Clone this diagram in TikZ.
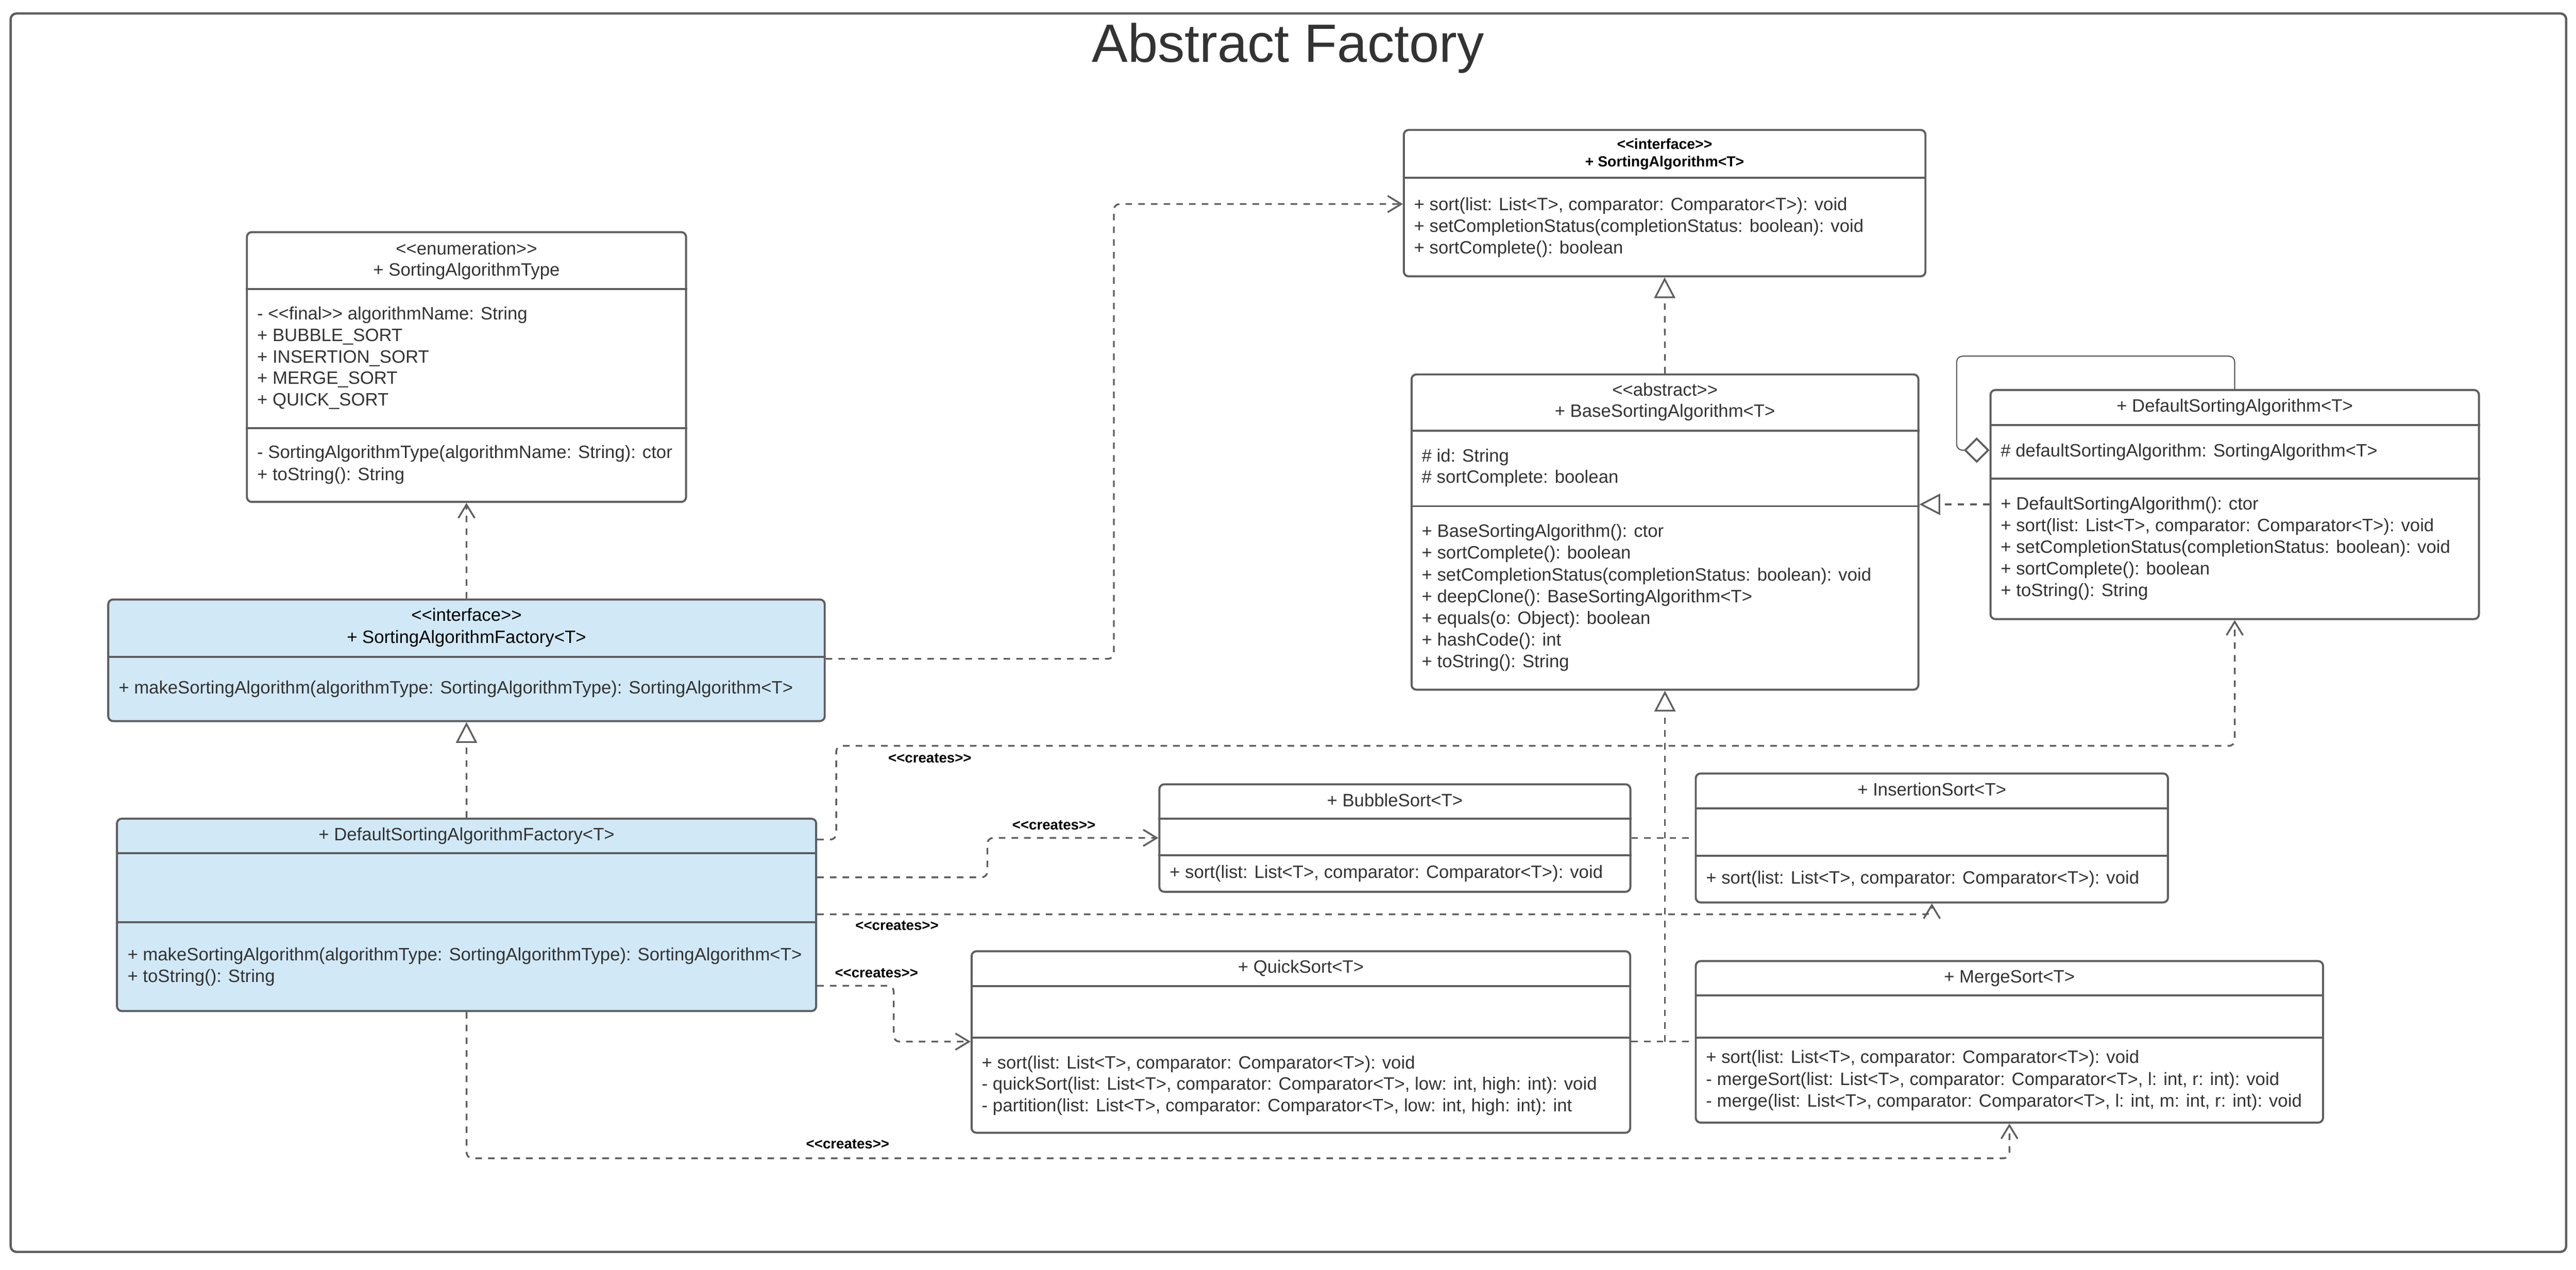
\documentclass[tikz,border=0pt]{standalone}
\usepackage{fontspec}
\setmainfont{Liberation Sans}[Ligatures=TeXOff]
\usetikzlibrary{arrows.meta, fit}
\definecolor{linegray}{RGB}{94,94,94}
\definecolor{textgray}{RGB}{51,51,51}
\definecolor{factoryblue}{RGB}{209,232,246}

\begin{document}
\begin{tikzpicture}[x=0.3mm, y=-0.3mm,
	box/.style={draw=linegray, line width=1.05pt, rounded corners=2.5pt, fill=white, inner sep=0pt},
	blue box/.style={box, fill=factoryblue},
	divider/.style={draw=linegray, line width=1.05pt},
	member/.style={anchor=west, inner sep=0pt, text height=6.7pt, text depth=0pt, text=textgray, font=\fontsize{9.3}{11}\selectfont},
	head/.style={member, anchor=center},
	bold head/.style={anchor=center, inner sep=0pt, text height=5.4pt, text depth=0pt, font=\fontsize{7.6}{9}\selectfont\bfseries},
	creates label/.style={bold head, font=\fontsize{7.4}{9}\selectfont\bfseries},
	dashline/.style={draw=linegray, line width=0.9pt, dash pattern=on 3.4pt off 3.2pt, rounded corners=3pt},
	depend/.style={dashline, -{Straight Barb[length=7pt, width=8.5pt]}},
	realize/.style={dashline, -{Triangle[open, length=10.8pt, width=11pt]}},
	aggregate/.style={draw=linegray, line width=0.6pt, rounded corners=3pt, -{Diamond[open, length=13.3pt, width=13.3pt, line width=1pt]}}]
	\useasboundingbox (0,0) rectangle (1568,773);
	\node[box, line width=1.2pt, fill=none, rounded corners=3pt, fit={(6.5,8.2) (1562,762)}] (frame) {};
	\node[inner sep=0pt, text height=20pt, text depth=0pt, text=textgray, font=\fontsize{28}{32}\selectfont] (title) at (784,26) {Abstract Factory};

	% SortingAlgorithmType
	\node[box, fit={(150.3,141.3) (417.6,305.5)}] (enum) {};
	\draw[divider] (enum.west |- 0,176) -- (enum.east |- 0,176);
	\draw[divider] (enum.west |- 0,260.5) -- (enum.east |- 0,260.5);
	\node[head] (enum-stereo) at (enum.north |- 0,151) {<<enumeration>>};
	\node[head] (enum-name) at (enum.north |- 0,164) {+ SortingAlgorithmType};
	\foreach \entry [count=\i] in {- <<final>> algorithmName: String, + BUBBLE\_SORT, + INSERTION\_SORT, + MERGE\_SORT, + QUICK\_SORT}{
		\node[member] (enum-a\i) at (156.3, 177.75+13.05*\i) {\entry};
	}
	\foreach \entry [count=\i] in {- SortingAlgorithmType(algorithmName: String): ctor, + toString(): String}{
		\node[member] (enum-m\i) at (156.3, 261.8+13.3*\i) {\entry};
	}

	% SortingAlgorithm
	\node[box, fit={(854.5,79.1) (1172,168.2)}] (sa) {};
	\draw[divider] (sa.west |- 0,108.3) -- (sa.east |- 0,108.3);
	\node[bold head] (sa-stereo) at (sa.north |- 0,87.6) {<<interface>>};
	\node[bold head] (sa-name) at (sa.north |- 0,98.2) {+ SortingAlgorithm<T>};
	\foreach \entry [count=\i] in {{+ sort(list: List<T>, comparator: Comparator<T>): void}, + setCompletionStatus(completionStatus: boolean): void, + sortComplete(): boolean}{
		\node[member] (sa-m\i) at (860.5, 111+13.2*\i) {\entry};
	}

	% BaseSortingAlgorithm
	\node[box, fit={(859.2,227.9) (1167.7,419.8)}] (base) {};
	\draw[divider] (base.west |- 0,262.2) -- (base.east |- 0,262.2);
	\draw[divider] (base.west |- 0,308.1) -- (base.east |- 0,308.1);
	\node[head] (base-stereo) at (base.north |- 0,237.2) {<<abstract>>};
	\node[head] (base-name) at (base.north |- 0,250) {+ BaseSortingAlgorithm<T>};
	\foreach \entry [count=\i] in {\# id: String, \# sortComplete: boolean}{
		\node[member] (base-a\i) at (865.2, 264.4+12.9*\i) {\entry};
	}
	\foreach \entry [count=\i] in {+ BaseSortingAlgorithm(): ctor, + sortComplete(): boolean, + setCompletionStatus(completionStatus: boolean): void, + deepClone(): BaseSortingAlgorithm<T>, + equals(o: Object): boolean, + hashCode(): int, + toString(): String}{
		\node[member] (base-m\i) at (865.2, 309.9+13.2*\i) {\entry};
	}

	% DefaultSortingAlgorithm
	\node[box, fit={(1211.6,237.4) (1508.9,376.8)}] (dsa) {};
	\draw[divider] (dsa.west |- 0,258.6) -- (dsa.east |- 0,258.6);
	\draw[divider] (dsa.west |- 0,291.3) -- (dsa.east |- 0,291.3);
	\node[head] (dsa-name) at (dsa.north |- 0,246.8) {+ DefaultSortingAlgorithm<T>};
	\node[member] (dsa-a1) at (1217.6,274) {\# defaultSortingAlgorithm: SortingAlgorithm<T>};
	\foreach \entry [count=\i] in {+ DefaultSortingAlgorithm(): ctor, {+ sort(list: List<T>, comparator: Comparator<T>): void}, + setCompletionStatus(completionStatus: boolean): void, + sortComplete(): boolean, + toString(): String}{
		\node[member] (dsa-m\i) at (1217.6, 293.2+13.2*\i) {\entry};
	}

	% SortingAlgorithmFactory
	\node[blue box, fit={(65.9,364.9) (502,438.9)}] (saf) {};
	\draw[divider] (saf.west |- 0,399.8) -- (saf.east |- 0,399.8);
	\node[head, text=black] (saf-stereo) at (saf.north |- 0,374.1) {<<interface>>};
	\node[head, text=black] (saf-name) at (saf.north |- 0,387.6) {+ SortingAlgorithmFactory<T>};
	\node[member] (saf-m1) at (72,418.4) {+ makeSortingAlgorithm(algorithmType: SortingAlgorithmType): SortingAlgorithm<T>};

	% DefaultSortingAlgorithmFactory
	\node[blue box, fit={(71.2,498.3) (496.8,615.4)}] (dsaf) {};
	\draw[divider] (dsaf.west |- 0,519.3) -- (dsaf.east |- 0,519.3);
	\draw[divider] (dsaf.west |- 0,561.2) -- (dsaf.east |- 0,561.2);
	\node[head] (dsaf-name) at (dsaf.north |- 0,507.6) {+ DefaultSortingAlgorithmFactory<T>};
	\foreach \entry [count=\i] in {+ makeSortingAlgorithm(algorithmType: SortingAlgorithmType): SortingAlgorithm<T>, + toString(): String}{
		\node[member] (dsaf-m\i) at (77.4, 567.8+13.1*\i) {\entry};
	}

	% BubbleSort, InsertionSort
	\node[box, fit={(705.7,477.4) (992.4,542.8)}] (bubble) {};
	\draw[divider] (bubble.west |- 0,498.4) -- (bubble.east |- 0,498.4);
	\draw[divider] (bubble.west |- 0,520.6) -- (bubble.east |- 0,520.6);
	\node[head] (bubble-name) at (bubble.north |- 0,487) {+ BubbleSort<T>};
	\node[member] (bubble-m1) at (711.7,530.5) {+ sort(list: List<T>, comparator: Comparator<T>): void};

	\node[box, fit={(1032.2,470.8) (1319.6,549.3)}] (insertion) {};
	\draw[divider] (insertion.west |- 0,492.1) -- (insertion.east |- 0,492.1);
	\draw[divider] (insertion.west |- 0,520.8) -- (insertion.east |- 0,520.8);
	\node[head] (insertion-name) at (insertion.north |- 0,480.5) {+ InsertionSort<T>};
	\node[member] (insertion-m1) at (1038.2,534) {+ sort(list: List<T>, comparator: Comparator<T>): void};

	% QuickSort, MergeSort
	\node[box, fit={(591.4,579) (992.3,689.5)}] (quick) {};
	\draw[divider] (quick.west |- 0,600.2) -- (quick.east |- 0,600.2);
	\draw[divider] (quick.west |- 0,631.5) -- (quick.east |- 0,631.5);
	\node[head] (quick-name) at (quick.north |- 0,588.3) {+ QuickSort<T>};
	\foreach \entry [count=\i] in {{+ sort(list: List<T>, comparator: Comparator<T>): void}, {- quickSort(list: List<T>, comparator: Comparator<T>, low: int, high: int): void}, {- partition(list: List<T>, comparator: Comparator<T>, low: int, high: int): int}}{
		\node[member] (quick-m\i) at (597.4, 633.4+13.1*\i) {\entry};
	}

	\node[box, fit={(1032.2,585) (1414,683.3)}] (merge) {};
	\draw[divider] (merge.west |- 0,605.9) -- (merge.east |- 0,605.9);
	\draw[divider] (merge.west |- 0,631.5) -- (merge.east |- 0,631.5);
	\node[head] (merge-name) at (merge.north |- 0,594.2) {+ MergeSort<T>};
	\foreach \entry [count=\i] in {{+ sort(list: List<T>, comparator: Comparator<T>): void}, {- mergeSort(list: List<T>, comparator: Comparator<T>, l: int, r: int): void}, {- merge(list: List<T>, comparator: Comparator<T>, l: int, m: int, r: int): void}}{
		\node[member] (merge-m\i) at (1038.2, 630+13.3*\i) {\entry};
	}

	% inheritance
	\draw[realize] (base.north) -- (sa.south);
	\draw[realize] (dsa.west |- 0,307) -- (base.east |- 0,307);
	\draw[realize] (dsaf.north) -- (saf.south);
	\coordinate (trunk) at (base.south |- 0,634);
	\draw[realize] (trunk) -- (base.south);
	\draw[dashline] (bubble.east |- 0,510) -- (insertion.west |- 0,510);
	\draw[dashline] (quick.east |- 0,634) -- (merge.west |- 0,634);
	\draw[aggregate] (dsa.north) |- (1191,216.8) |- (dsa.west |- 0,274);

	% dependencies
	\draw[depend] (saf.north) -- (enum.south);
	\draw[depend] (saf.east |- 0,401) -| (678,124.2) -- (sa.west |- 0,124.2);
	\draw[depend] (dsaf.east |- 0,511) -| (509,454) -| (dsa.south);
	\node[creates label] (creates-dsa) at (566,461) {<<creates>>};
	\draw[depend] (dsaf.east |- 0,534) -| (601,510) -- (bubble.west |- 0,510);
	\node[creates label] (creates-bubble) at (641.5,502) {<<creates>>};
	\draw[depend] (dsaf.east |- 0,556.5) -| (insertion.south);
	\node[creates label] (creates-insertion) at (546,563) {<<creates>>};
	\draw[depend] (dsaf.east |- 0,600) -| (544,634) -- (quick.west |- 0,634);
	\node[creates label] (creates-quick) at (533.5,592) {<<creates>>};
	\draw[depend] (dsaf.south) -- ++(0,89) -| (merge.south);
	\node[creates label] (creates-merge) at (516,696) {<<creates>>};
\end{tikzpicture}
\end{document}
